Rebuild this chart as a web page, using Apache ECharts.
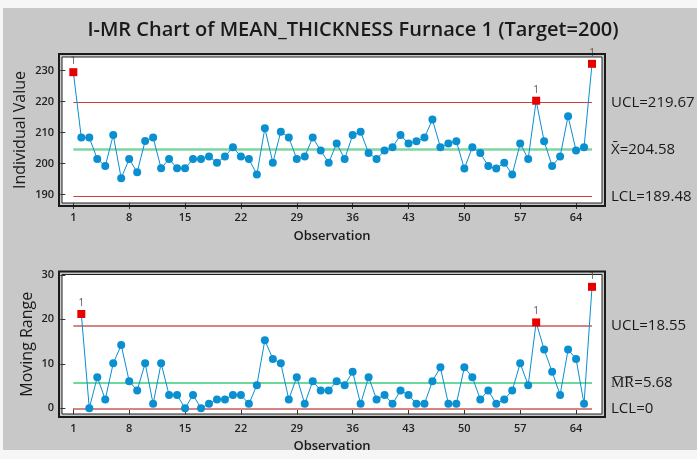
<!DOCTYPE html>
<html><head><meta charset="utf-8">
<script src="https://cdn.jsdelivr.net/npm/echarts@6/dist/echarts.min.js"></script>
<style>
html,body{margin:0;padding:0;background:#f6f6f6;overflow:hidden}
#bg{position:absolute;left:3px;top:8px;width:694px;height:442px;background:#c8c8c8}
#c{position:absolute;left:0;top:0;width:697px;height:459px}
</style>
</head><body><div id="bg"></div><div id="c"></div>
<script>
// ---- data ----
const individualValues = [229.5,208.4,208.4,201.5,199.2,209.2,195.3,201.5,197.2,207.3,
  208.4,198.5,201.5,198.5,198.5,201.5,201.5,202.3,200.3,202.3,
  205.3,202.3,201.5,196.5,211.4,200.3,210.3,208.4,201.5,202.3,
  208.4,204.2,200.3,206.5,201.5,209.2,210.3,203.4,201.5,204.2,
  205.3,209.2,206.5,207.2,208.4,214.2,205.3,206.5,207.2,198.4,
  205.3,203.4,199.2,198.4,200.3,196.5,206.5,201.5,220.3,207.2,
  199.2,202.3,215.3,204.2,205.3,232.2];
// moving ranges for observations 2..66
const movingRanges = [21.2,0,7.0,2.0,10.1,14.2,6.1,4.0,10.1,
  1.0,10.1,3.0,3.0,0,3.0,0,1.0,2.0,2.0,
  3.0,3.0,1.0,5.2,15.3,11.1,10.1,2.0,7.0,1.0,
  6.1,4.0,4.0,6.1,5.2,8.2,1.0,7.0,2.0,3.0,
  1.0,4.0,3.0,1.0,1.0,6.1,9.2,1.0,1.0,9.2,
  7.0,2.0,4.0,1.0,2.0,4.0,10.1,5.2,19.3,13.2,
  8.2,3.0,13.2,11.1,1.0,27.3];
const xTicks = [1,8,15,22,29,36,43,50,57,64];
const iTicks = [190,200,210,220,230];
const mrTicks = [0,10,20,30];
const iLimits = [219.67, 204.58, 189.48];   // UCL, mean, LCL
const mrLimits = [18.55, 5.68, 0];
const iLimitLabels = ['UCL=219.67', 'X\u0304=204.58', 'LCL=189.48'];
const mrLimitLabels = ['UCL=18.55', 'M\u0305R\u0305=5.68', 'LCL=0'];
const titleText = 'I-MR Chart of MEAN_THICKNESS Furnace 1 (Target=200)';

// ---- styling ----
const FONT = 'Open Sans';
const BLUE = '#0a8fd0';
const RED = '#e60000';
const firstObs = 1, lastObs = individualValues.length;

function pointData(values, startObs, ucl, lcl) {
  return values.map((v, i) => {
    const out = v > ucl || v < lcl;
    return {
      value: [i + startObs, v],
      symbol: out ? 'rect' : 'circle',
      symbolSize: 8,
      itemStyle: { color: out ? RED : BLUE },
      label: { show: out, formatter: '1', position: 'top', distance: 2,
               color: '#555', fontSize: 10, fontFamily: FONT }
    };
  });
}

function limitLines(limits, labels, redCol, redW, greenCol, greenW) {
  return {
    symbol: ['none', 'none'], silent: true, animation: false,
    label: { show: true, position: 'end', distance: 19, color: '#1a1a1a',
             fontSize: 15, fontFamily: FONT },
    data: limits.map((v, i) => [
      { coord: [firstObs, v],
        label: { formatter: labels[i] },
        lineStyle: { type: 'solid', color: i === 1 ? greenCol : redCol, width: i === 1 ? greenW : redW } },
      { coord: [lastObs, v] }
    ])
  };
}

const xMin = -0.42, xMax = 67.25;
function xAxisCfg(gi, gap) {
  return {
    type: 'value', gridIndex: gi, min: xMin, max: xMax,
    name: 'Observation', nameLocation: 'middle', nameGap: gap, nameMoveOverlap: false,
    nameTextStyle: { fontFamily: FONT, fontSize: 13, fontWeight: 600, color: '#1a1a1a' },
    axisLine: { show: false },
    axisTick: { show: true, customValues: xTicks, length: 6, lineStyle: { color: '#333' } },
    axisLabel: { customValues: xTicks, margin: 9, fontFamily: FONT, fontSize: 11, fontWeight: 600, color: '#222' },
    splitLine: { show: false }
  };
}
function yAxisCfg(gi, min, max, ticks, name, gap) {
  return {
    type: 'value', gridIndex: gi, min: min, max: max,
    name: name, nameLocation: 'middle', nameGap: gap, nameRotate: 90, nameMoveOverlap: false,
    nameTextStyle: { fontFamily: FONT, fontSize: 16, color: '#1a1a1a' },
    axisLine: { show: false },
    axisTick: { show: true, customValues: ticks, length: 5, lineStyle: { color: '#333' } },
    axisLabel: { customValues: ticks, margin: 8, fontFamily: FONT, fontSize: 11, fontWeight: 600, color: '#222' },
    splitLine: { show: false }
  };
}

const chart = echarts.init(document.getElementById('c'), null, { renderer: 'canvas' });
chart.setOption({
  animation: false,
  backgroundColor: 'transparent',
  grid: [
    { left: 62, top: 57, width: 540, height: 146, show: true, backgroundColor: '#fff', borderColor: '#222', borderWidth: 1 },
    { left: 62, top: 274.5, width: 540, height: 139.5, show: true, backgroundColor: '#fff', borderColor: '#222', borderWidth: 1 }
  ],
  xAxis: [xAxisCfg(0, 27), xAxisCfg(1, 26)],
  yAxis: [
    yAxisCfg(0, 187.3, 234.4, iTicks, 'Individual Value', 34),
    yAxisCfg(1, -1.28, 30.07, mrTicks, 'Moving Range', 27)
  ],
  graphic: [
    { type: 'text', x: 353, y: 30, style: { text: titleText, textAlign: 'center', textVerticalAlign: 'middle',
      font: '600 20px "Open Sans"', fill: '#1a1a1a' } },
    { type: 'rect', shape: { x: 59, y: 54, width: 546, height: 152 }, style: { fill: 'none', stroke: '#1a1a1a', lineWidth: 2 }, z: 100 },
    { type: 'rect', shape: { x: 59, y: 271.5, width: 546, height: 145.5 }, style: { fill: 'none', stroke: '#1a1a1a', lineWidth: 2 }, z: 100 }
  ],
  series: [
    {
      type: 'line', xAxisIndex: 0, yAxisIndex: 0,
      data: pointData(individualValues, 1, iLimits[0], iLimits[2]),
      lineStyle: { color: BLUE, width: 1 }, itemStyle: { color: BLUE },
      z: 5,
      markLine: limitLines(iLimits, iLimitLabels, '#d43c3c', 1.2, '#80d6a2', 2.5)
    },
    {
      type: 'line', xAxisIndex: 1, yAxisIndex: 1,
      data: pointData(movingRanges, 2, mrLimits[0], -1),
      lineStyle: { color: BLUE, width: 1 }, itemStyle: { color: BLUE },
      z: 5,
      markLine: limitLines(mrLimits, mrLimitLabels, '#d98484', 2, '#3ccb7c', 1.5)
    }
  ]
});
</script>
</body></html>
